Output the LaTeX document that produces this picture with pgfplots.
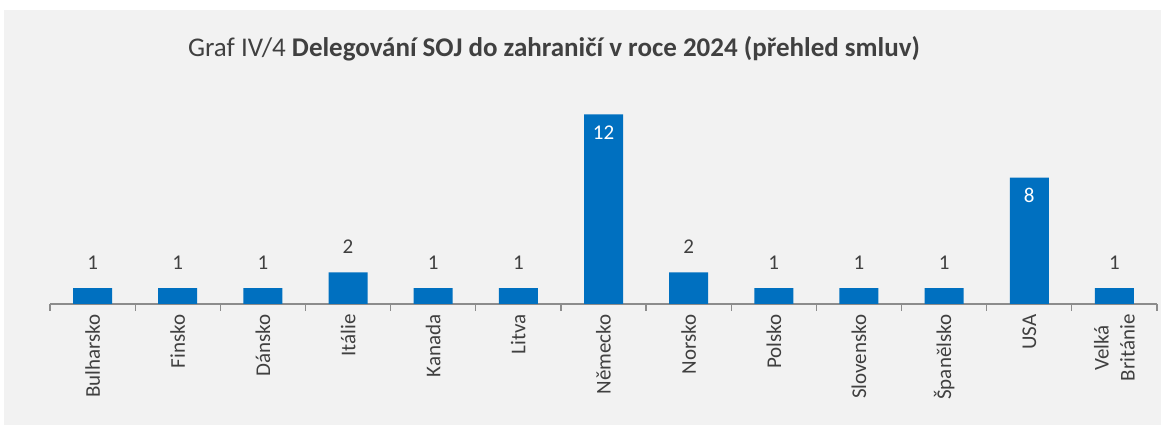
\documentclass[border=0pt]{standalone}
\usepackage{pgfplots}
\pgfplotsset{compat=1.18}
\usepackage{pgfplotstable}
\usetikzlibrary{backgrounds}
\usepackage{fontspec}
\setmainfont{Carlito}
\definecolor{barblue}{HTML}{0070C0}
\definecolor{bg}{HTML}{F2F2F2}
\definecolor{txt}{HTML}{404040}
\definecolor{axisgray}{HTML}{8C8C8C}
\pgfplotstableread{
x y
0 1
1 1
2 1
3 2
4 1
5 1
7 2
8 1
9 1
10 1
12 1
}\smalltab
\pgfplotstableread{
x y
6 12
11 8
}\largetab
\begin{document}
\begin{tikzpicture}
\begin{axis}[
  at={(92.58pt,126pt)}, anchor=origin,
  scale only axis, width=1107pt, height=205.4pt,
  xmin=-0.5, xmax=12.5, ymin=0, ymax=13,
  axis x line*=bottom, axis y line=none,
  x axis line style={-, draw=axisgray, line width=1.2pt},
  ytick=\empty,
  xtick={0,...,12},
  major tick length=0pt,
  xticklabels={Bulharsko,Finsko,Dánsko,Itálie,Kanada,Litva,Německo,Norsko,Polsko,Slovensko,Španělsko,USA,{Velká\\Británie}},
  xticklabel style={rotate=90, anchor=east, align=center, text=txt, font=\fontsize{21}{26}\selectfont},
  xticklabel shift=7pt,
  extra x ticks={-0.5,0.5,...,12.5},
  extra x tick labels={},
  extra x tick style={major tick length=7pt, tick align=outside, tick style={draw=axisgray, line width=1.2pt}},
  /pgf/number format/assume math mode=true,
  ybar, bar width=39pt, bar shift=0pt,
  clip=false,
]
\addplot[fill=barblue, draw=none, nodes near coords,
  every node near coord/.append style={anchor=base, yshift=19pt, text=txt, font=\fontsize{21}{26}\selectfont}]
  table[x=x,y=y] {\smalltab};
\addplot[fill=barblue, draw=none, nodes near coords,
  every node near coord/.append style={anchor=base, yshift=-25pt, text=white, font=\fontsize{21}{26}\selectfont}]
  table[x=x,y=y] {\largetab};
\end{axis}
\node[anchor=base, text=txt, font=\fontsize{27}{32}\selectfont] at (554pt,373pt) {Graf IV/4 \textbf{Delegování SOJ do zahraničí v roce 2024 (přehled smluv)}};
\begin{scope}[on background layer]
\fill[white] (0pt,0pt) rectangle (1165pt,430pt);
\fill[bg] (4pt,5pt) rectangle (1161pt,420pt);
\end{scope}
\pgfresetboundingbox
\path[use as bounding box] (0pt,0pt) rectangle (1165pt,430pt);
\end{tikzpicture}
\end{document}
